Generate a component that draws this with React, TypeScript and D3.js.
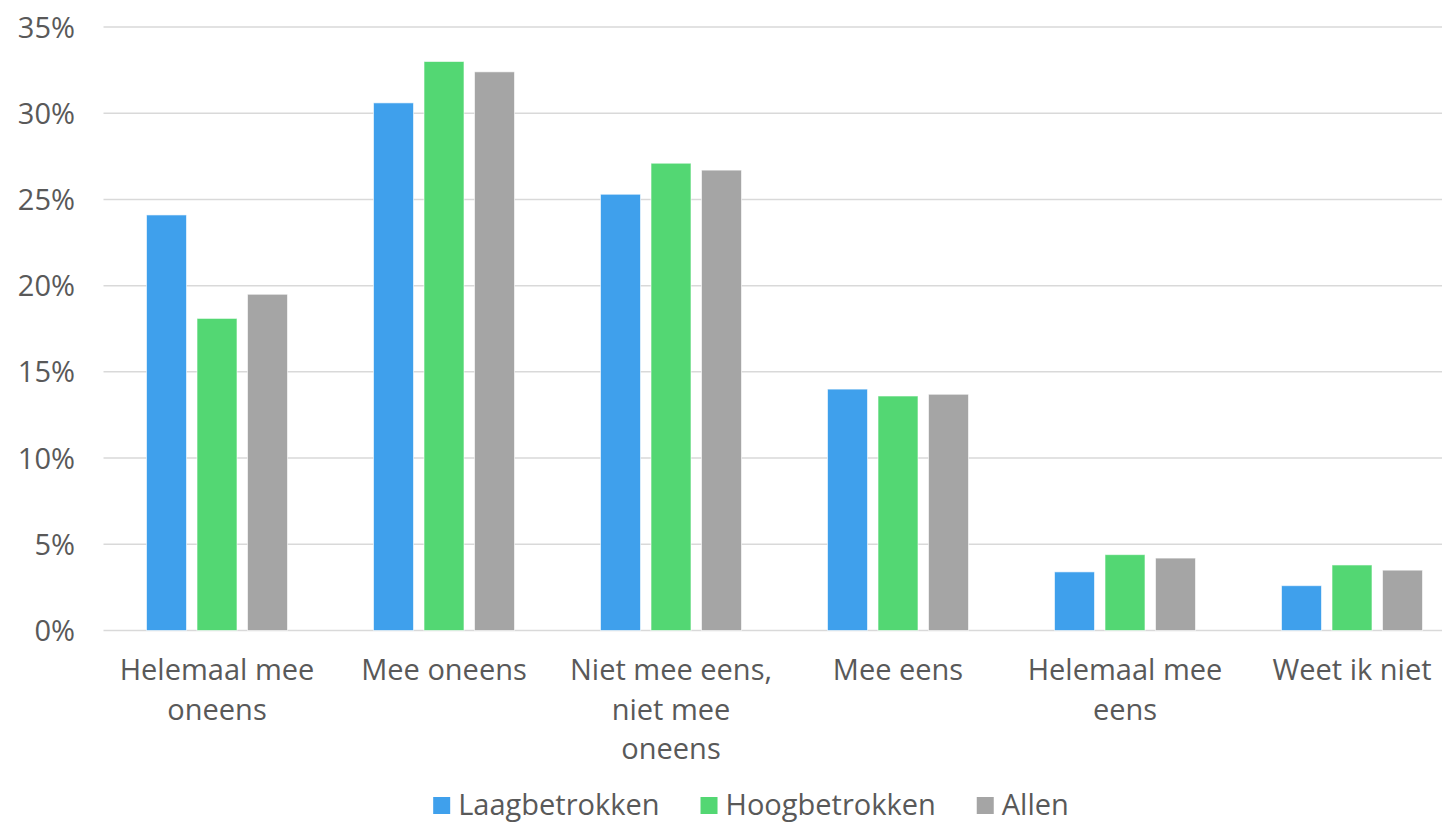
import React, { useEffect, useRef } from "react";
import * as d3 from "d3";

// Survey answers (share of respondents per answer, in %)
const categories = [
  "Helemaal mee oneens",
  "Mee oneens",
  "Niet mee eens, niet mee oneens",
  "Mee eens",
  "Helemaal mee eens",
  "Weet ik niet",
];
const seriesNames = ["Laagbetrokken", "Hoogbetrokken", "Allen"];
const laagbetrokken = [24.1, 30.6, 25.3, 14.0, 3.4, 2.6];
const hoogbetrokken = [18.1, 33.0, 27.1, 13.6, 4.4, 3.8];
const allen = [19.5, 32.4, 26.7, 13.7, 4.2, 3.5];
const yTicks = [0, 5, 10, 15, 20, 25, 30, 35];

const seriesValues = [laagbetrokken, hoogbetrokken, allen];
const colors = ["#3fa0ec", "#53d773", "#a5a5a5"];

const W = 1442;
const H = 823;
const FONT = "'Open Sans', sans-serif";
const TEXT = "#595959";

export default function App() {
  const ref = useRef<SVGSVGElement | null>(null);

  useEffect(() => {
    const svg = d3.select(ref.current);
    svg.selectAll("*").remove();

    const plot = { left: 103.5, right: 1465.5, top: 27, bottom: 630.5 };

    const y = d3.scaleLinear().domain([0, 35]).range([plot.bottom, plot.top]);
    const x0 = d3
      .scaleBand<string>()
      .domain(categories)
      .range([plot.left, plot.right])
      .paddingInner(0)
      .paddingOuter(0);
    const groupPad = (x0.bandwidth() - 141) / 2;
    const x1 = d3
      .scaleBand<string>()
      .domain(seriesNames)
      .range([groupPad, x0.bandwidth() - groupPad])
      .paddingInner(0.208)
      .paddingOuter(0);

    // gridlines
    svg
      .append("g")
      .selectAll("line")
      .data(yTicks)
      .join("line")
      .attr("x1", plot.left)
      .attr("x2", plot.right)
      .attr("y1", (d) => y(d))
      .attr("y2", (d) => y(d))
      .attr("stroke", "#d9d9d9")
      .attr("stroke-width", 1.5);

    // y tick labels
    svg
      .append("g")
      .selectAll("text")
      .data(yTicks)
      .join("text")
      .attr("x", 75)
      .attr("y", (d) => y(d) + 10.5)
      .attr("text-anchor", "end")
      .attr("font-family", FONT)
      .attr("font-size", 29)
      .attr("fill", TEXT)
      .text((d) => `${d}%`);

    // bars
    const groups = svg
      .append("g")
      .selectAll("g")
      .data(categories)
      .join("g")
      .attr("transform", (c) => `translate(${x0(c)},0)`);

    groups
      .selectAll("rect")
      .data((c, i) =>
        seriesNames.map((s, si) => ({ s, si, v: seriesValues[si][i] }))
      )
      .join("rect")
      .attr("x", (d) => x1(d.s) as number)
      .attr("width", x1.bandwidth())
      .attr("y", (d) => y(d.v))
      .attr("height", (d) => y(0) - y(d.v))
      .attr("fill", (d) => colors[d.si])
      .attr("stroke", "#ffffff")
      .attr("stroke-opacity", 0.6)
      .attr("stroke-width", 1);

    // category labels, wrapped to the band width
    const maxWidth = 212;
    const lineHeight = 39.5;
    const labels = svg
      .append("g")
      .selectAll("text")
      .data(categories)
      .join("text")
      .attr("x", (c) => (x0(c) as number) + x0.bandwidth() / 2)
      .attr("y", 680)
      .attr("text-anchor", "middle")
      .attr("font-family", FONT)
      .attr("font-size", 29)
      .attr("fill", TEXT);

    labels.each(function (c) {
      const text = d3.select(this);
      const cx = text.attr("x");
      const words = c.split(" ");
      let line: string[] = [];
      let tspan = text.append("tspan").attr("x", cx).attr("dy", 0);
      for (const w of words) {
        line.push(w);
        tspan.text(line.join(" "));
        const node = tspan.node() as SVGTSpanElement;
        if (node.getComputedTextLength() > maxWidth && line.length > 1) {
          line.pop();
          tspan.text(line.join(" "));
          line = [w];
          tspan = text
            .append("tspan")
            .attr("x", cx)
            .attr("dy", lineHeight)
            .text(w);
        }
      }
    });

    // legend, centred below the plot
    const legend = svg.append("g");
    const items = legend.selectAll("g").data(seriesNames).join("g");
    items
      .append("rect")
      .attr("width", 17)
      .attr("height", 17)
      .attr("y", 797)
      .attr("fill", (_, i) => colors[i]);
    items
      .append("text")
      .attr("x", 25)
      .attr("y", 815)
      .attr("font-family", FONT)
      .attr("font-size", 29)
      .attr("fill", TEXT)
      .text((d) => d);

    let offset = 0;
    const positions: number[] = [];
    items.each(function () {
      const t = d3.select(this).select("text").node() as SVGTextElement;
      positions.push(offset);
      offset += 25 + t.getComputedTextLength() + 41;
    });
    const total = offset - 41;
    const start = 751 - total / 2;
    items.attr("transform", (_, i) => `translate(${start + positions[i]},0)`);
  }, []);

  return (
    <div style={{ position: "absolute", left: 0, top: 0 }}>
      <svg
        ref={ref}
        width={W}
        height={H}
        style={{ display: "block", background: "#ffffff" }}
      />
    </div>
  );
}
